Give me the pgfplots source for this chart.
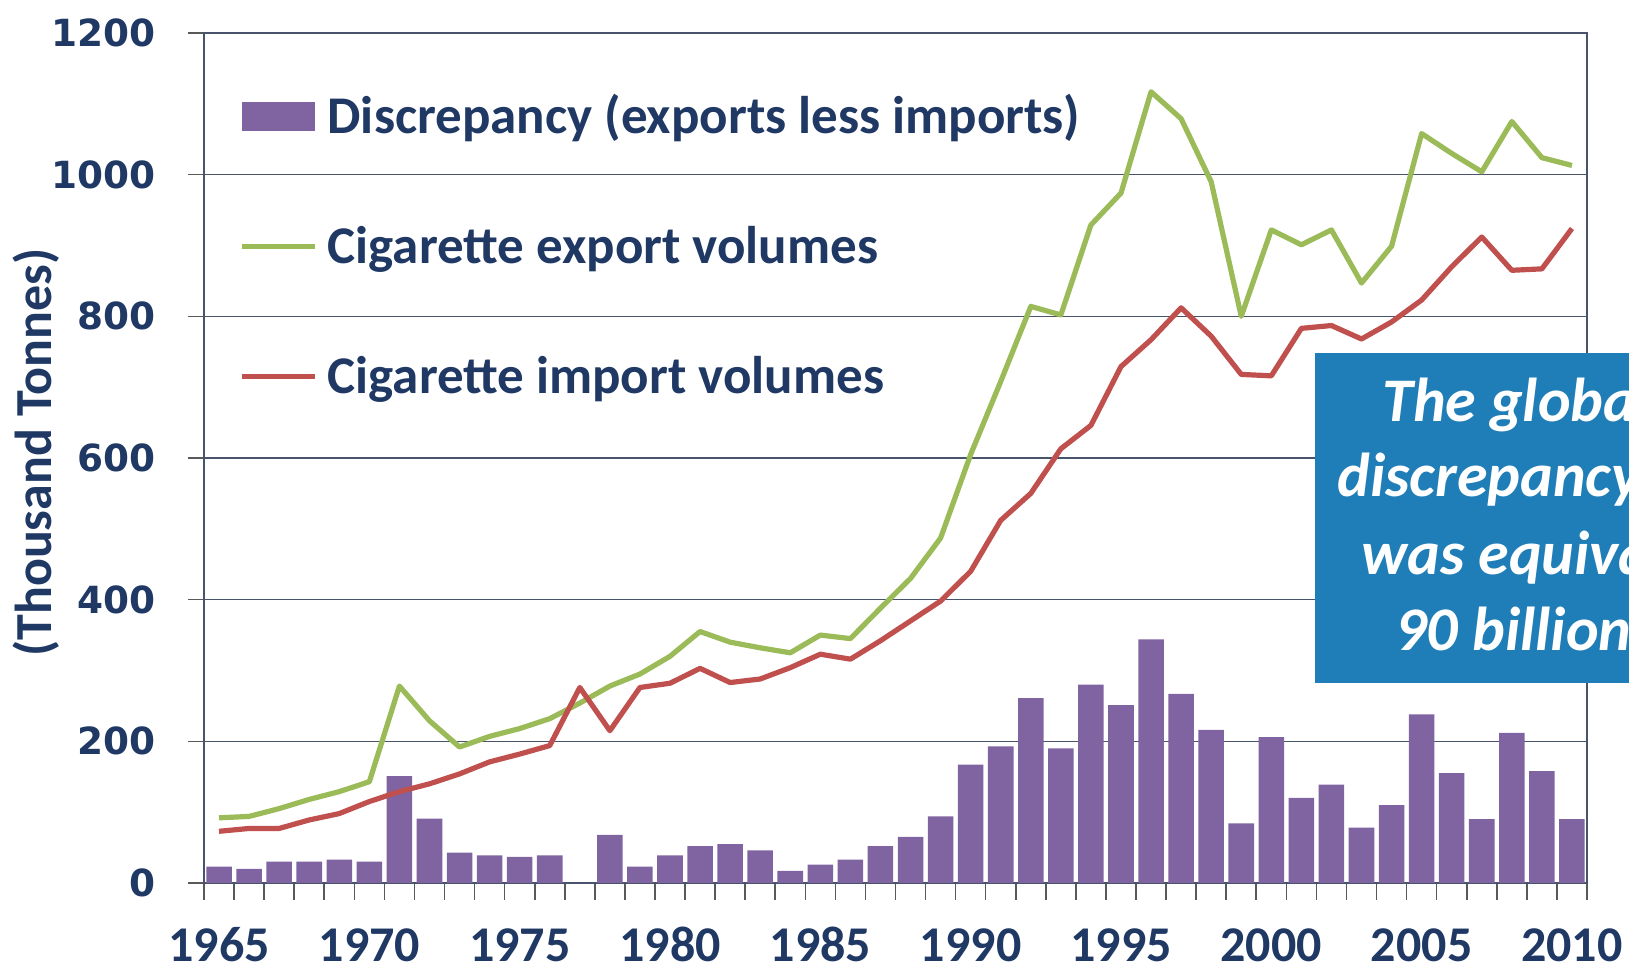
\documentclass[border=0pt]{standalone}
\usepackage{pgfplots}
\pgfplotsset{compat=1.18}
\usepackage{pgfplotstable}
\usepackage{fontspec}
\setmainfont{Carlito}
\newfontfamily\dejavu{DejaVu Sans}

\definecolor{navy}{RGB}{31,56,100}
\definecolor{purp}{RGB}{128,100,162}
\definecolor{expgreen}{RGB}{155,187,89}
\definecolor{impred}{RGB}{192,80,77}
\definecolor{gridc}{RGB}{72,84,108}
\definecolor{boxblue}{RGB}{31,126,184}

% i = year - 1965; disc = exports less imports (thousand tonnes)
\pgfplotstableread{
i  disc  exp   imp
0  23    92    73
1  20    94    77
2  30    105   77
3  30    118   89
4  33    129   98
5  30    143   115
6  151   278   129
7  91    229   140
8  43    192   154
9  39    207   171
10 37    218   182
11 39    232   194
12 nan   254   276
13 68    278   215
14 23    295   276
15 39    320   282
16 52    355   303
17 55    340   283
18 46    332   288
19 17    325   304
20 26    350   323
21 33    345   316
22 52    388   342
23 65    430   370
24 94    487   398
25 167   605   440
26 193   708   512
27 261   814   550
28 190   802   613
29 280   929   646
30 251   974   729
31 344   1117  767
32 267   1079  812
33 216   990   772
34 84    800   718
35 206   922   716
36 120   901   783
37 139   922   787
38 78    847   768
39 110   899   792
40 238   1058  823
41 155   1030  870
42 90    1004  912
43 212   1075  865
44 158   1024  867
45 90    1013  924
}\data

\begin{document}
\begin{tikzpicture}
\path[use as bounding box] (0,0) rectangle (814.5pt,484.5pt);
\begin{axis}[
  at={(102pt,43pt)}, anchor=south west,
  scale only axis, width=691.5pt, height=425pt,
  xmin=-0.5, xmax=45.5, ymin=0, ymax=1200,
  xtick={0,5,...,45},
  xticklabels={1965,1970,1975,1980,1985,1990,1995,2000,2005,2010},
  minor xtick={-0.5,0.5,...,45.5},
  ytick={0,200,...,1200},
  yticklabels={0,200,400,600,800,1000,1200},
  tick align=outside, tick pos=left,
  major tick length=8pt, minor tick length=8.5pt,
  major x tick style={draw=none},
  tick style={color=gray!70!black, line width=0.8pt},
  ymajorgrids, grid style={color=gridc, line width=0.8pt},
  axis line style={color=gridc, line width=0.8pt},
  xticklabel style={font=\fontsize{25}{30}\selectfont\bfseries, text=navy, anchor=base, inner sep=0pt, yshift=-31.5pt},
  yticklabel style={font=\dejavu\bfseries\fontsize{18.7}{22}\selectfont, text=navy, anchor=east, inner sep=0pt, xshift=-16pt},
  ylabel={(Thousand Tonnes)},
  ylabel style={at={(axis description cs:-0.1215,0.506)}, anchor=center, font=\fontsize{26}{30}\selectfont\bfseries, text=navy},
  legend style={at={(rel axis cs:0,1)}, anchor=north west, xshift=17.5pt, yshift=-31pt,
    draw=none, fill=none, inner sep=0pt, row sep=40pt, column sep=5pt,
    font=\fontsize{26.5}{30}\selectfont\bfseries, text=navy,
    nodes={inner sep=0pt, text height=19pt, text depth=6pt}},
  legend cell align=left,
]
\addplot[ybar, bar width=0.85, fill=purp, draw=none,
  legend image code/.code={\fill[purp] (0pt,-5.25pt) rectangle (36.5pt,9.25pt);}]
  table[x=i, y=disc] {\data};
\addlegendentry{Discrepancy (exports less imports)}
\addplot[expgreen, line width=2.6pt, line join=round, no marks,
  legend image code/.code={\draw[expgreen, line width=2.6pt] (0pt,2pt) -- (36.5pt,2pt);}]
  table[x=i, y=exp] {\data};
\addlegendentry{Cigarette export volumes}
\addplot[impred, line width=2.6pt, line join=round, no marks,
  legend image code/.code={\draw[impred, line width=2.6pt] (0pt,2pt) -- (36.5pt,2pt);}]
  table[x=i, y=imp] {\data};
\addlegendentry{Cigarette import volumes}
\end{axis}
\fill[boxblue] (657.5pt,143pt) rectangle (860pt,308pt);
\begin{scope}[every node/.style={anchor=base west, inner sep=0pt, text=white, font=\fontsize{31}{36}\selectfont\bfseries\itshape}]
\node at (691pt,273.5pt) {The global};
\node at (668.5pt,236pt) {discrepancy in 2010};
\node at (680.5pt,197pt) {was equivalent to};
\node at (697.5pt,159pt) {90 billion cigarettes};
\end{scope}
\end{tikzpicture}
\end{document}
